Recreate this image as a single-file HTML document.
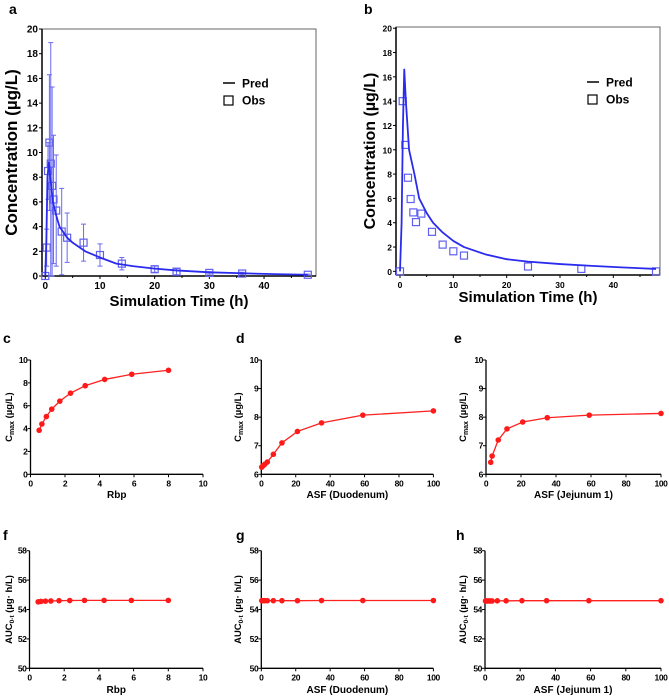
<!DOCTYPE html>
<html><head><meta charset="utf-8">
<style>
html,body{margin:0;padding:0;background:#fff;}
svg{display:block;font-family:"Liberation Sans",Arial,sans-serif;}
text{font-weight:bold;}
</style></head>
<body>
<svg id="fig" width="669" height="696" viewBox="0 0 669 696" xmlns="http://www.w3.org/2000/svg"></svg>
<script>
// Panel a data
const aPredT = [0,0.2,0.4,0.65,0.9,1.4,2,2.6,4,5,7.3,10,13,16,20,24,30,36,42,48];
const aPredC = [0,3,8,9.2,8,6,4.9,4,3.1,2.7,2,1.5,1.0,0.8,0.6,0.45,0.3,0.22,0.15,0.1];
const aObsT = [0,0.25,0.5,0.75,1,1.25,1.5,2,3,4,7,10,14,20,24,30,36,48];
const aObsC = [0,2.3,8.5,10.8,9.1,7.3,6.2,5.3,3.6,3.1,2.7,1.7,1.0,0.55,0.35,0.25,0.2,0.1];
const aObsSD = [0,1.5,2.3,5.5,9.8,8,5.2,4.5,3.5,2.0,1.5,0.9,0.5,0.25,0.25,0.1,0.1,0.05];
// Panel b data
const bPredT = [0,0.3,0.55,0.8,1.1,1.7,2.7,3.6,5,6.2,8,10,12,16,20,24,30,36,42,48];
const bPredC = [0,4,12,16.6,14,10,8,6,4.8,4,3.2,2.5,2,1.4,1.0,0.8,0.6,0.45,0.32,0.2];
const bObsT = [0,0.5,1,1.5,2,2.5,3,4,6,8,10,12,24,34,48];
const bObsC = [0,14,10.4,7.7,5.95,4.85,4.05,4.75,3.25,2.2,1.65,1.3,0.4,0.2,0.0];
// Sensitivity panels
const rbpX = [0.5,0.66,0.92,1.23,1.7,2.32,3.17,4.3,5.87,8.0];
const cCmax = [3.85,4.4,5.05,5.7,6.4,7.1,7.75,8.3,8.75,9.1];
const duoX = [0.26,1,2,3.5,7,12,21,35,59,100];
const dCmax = [6.25,6.3,6.35,6.43,6.7,7.1,7.5,7.8,8.07,8.22];
const jejX = [2.7,3.5,7,12,21,35,59,100];
const eCmax = [6.42,6.64,7.2,7.59,7.83,7.98,8.07,8.13];
const fAuc = [54.52,54.55,54.57,54.58,54.6,54.61,54.62,54.62,54.62,54.62];
const gAuc = [54.6,54.6,54.6,54.6,54.6,54.6,54.6,54.61,54.61,54.61];
const hX = [0.3,1,2,3,4,7,12,21,35,59,100];
const hAuc = [54.58,54.58,54.58,54.58,54.58,54.59,54.59,54.6,54.6,54.6,54.6];
const ticks20 = [0,2,4,6,8,10,12,14,16,18,20];
const ticksT = [0,10,20,30,40];

const NS="http://www.w3.org/2000/svg";
const svg=document.getElementById('fig');
function mk(tag,attrs,parent){const e=document.createElementNS(NS,tag);for(const k in attrs)e.setAttribute(k,attrs[k]);(parent||svg).appendChild(e);return e;}
function lin(d0,d1,r0,r1){return v=>r0+(v-d0)*(r1-r0)/(d1-d0);}

function pkPanel(o){
  const g=mk('g',{});
  
  
  const X=lin(o.xd[0],o.xd[1],o.L,o.R), Y=lin(o.yd[0],o.yd[1],o.B,o.T);
  const lab=mk('text',{x:o.labX,y:o.labY,'font-size':14,'font-weight':'normal',fill:'#000'},g);lab.textContent=o.letter;
  
  
  const box=mk('rect',{x:o.L,y:o.T,width:o.R-o.L,height:o.B-o.T,fill:'none',stroke:'#666','stroke-width':1},g);
  
  
  mk('line',{x1:o.L,y1:o.T,x2:o.L,y2:o.B,stroke:'#000','stroke-width':1.5},g);
  mk('line',{x1:o.L,y1:o.B,x2:o.R,y2:o.B,stroke:'#000','stroke-width':1.5},g);
  ticks20.forEach(t=>{const y=Y(t);mk('line',{x1:o.L-3,y1:y,x2:o.L,y2:y,stroke:'#000'},g);
    const tx=mk('text',{x:o.L-4,y:y+3.5,'font-size':o.tkSize,'text-anchor':'end'},g);tx.textContent=t;
    
    });
  ticksT.forEach(t=>{const x=X(t);mk('line',{x1:x,y1:o.B,x2:x,y2:o.B+3,stroke:'#000'},g);
    const tx=mk('text',{x:x,y:o.B+13,'font-size':o.tkSize,'text-anchor':'middle'},g);tx.textContent=t;
    
    });
  for(let t=5;t<=45;t+=5){if(t%10){const x=X(t);mk('line',{x1:x,y1:o.B,x2:x,y2:o.B+2,stroke:'#000'},g);}}
  const yt=mk('text',{transform:`translate(${o.ytX},${(o.T+o.B)/2}) rotate(-90)`,'font-size':o.ytSize,'text-anchor':'middle'},g);yt.textContent='Concentration (µg/L)';
  
  
  const xt=mk('text',{x:(o.L+o.R)/2,y:o.xtY,'font-size':15,'text-anchor':'middle'},g);xt.textContent='Simulation Time (h)';
  
  
  o.obsT.forEach((t,i)=>{
    const x=X(t),y=Y(o.obsC[i]);
    if(o.sd&&o.sd[i]>0){const y1=Y(o.obsC[i]+o.sd[i]),y2=Y(Math.max(0,o.obsC[i]-o.sd[i]));
      const eb=mk('path',{d:`M${x},${y1}V${y2}M${x-2.5},${y1}H${x+2.5}M${x-2.5},${y2}H${x+2.5}`,stroke:'#6a6af2','stroke-width':1,fill:'none'},g);
      
      }
    const s=mk('rect',{x:x-3.5,y:y-3.5,width:7,height:7,fill:'none',stroke:'#6060f0','stroke-width':1.2},g);
    
    
  });
  const p=mk('polyline',{points:o.predT.map((t,i)=>X(t)+','+Y(o.predC[i])).join(' '),fill:'none',stroke:'#2b2bee','stroke-width':1.8,'stroke-linejoin':'round'},g);
  
  
  const lg=mk('g',{},g);
  
  
  mk('line',{x1:o.lgX,y1:o.lgY,x2:o.lgX+12,y2:o.lgY,stroke:'#000','stroke-width':1.5},lg);
  const t1=mk('text',{x:o.lgX+19,y:o.lgY+4.5,'font-size':12,'font-weight':'normal'},lg);t1.textContent='Pred';
  
  
  mk('rect',{x:o.lgX+1,y:o.lgY+13,width:9,height:9,fill:'none',stroke:'#000','stroke-width':1.2},lg);
  const t2=mk('text',{x:o.lgX+19,y:o.lgY+21.5,'font-size':12,'font-weight':'normal'},lg);t2.textContent='Obs';
  
  
}

pkPanel({name:'panel-a',letter:'a',labX:9,labY:14,L:42,R:316,T:29,B:276,xd:[-0.6,49.5],yd:[0,20],tkSize:10,
  ytX:17,ytSize:17,xtY:306,obsT:aObsT,obsC:aObsC,sd:aObsSD,predT:aPredT,predC:aPredC,lgX:223,lgY:83});
pkPanel({name:'panel-b',letter:'b',labX:364,labY:14,L:396,R:660,T:27,B:275,xd:[-0.75,48.75],yd:[-0.3,20.1],tkSize:8.5,
  ytX:375,ytSize:16,xtY:302,obsT:bObsT,obsC:bObsC,sd:null,predT:bPredT,predC:bPredC,lgX:587,lgY:82});

function sensPanel(o){
  const g=mk('g',{});
  
  
  const X=lin(o.xd[0],o.xd[1],o.L,o.R), Y=lin(o.yd[0],o.yd[1],o.B,o.T);
  const lab=mk('text',{x:o.labX,y:o.labY,'font-size':14,'font-weight':'normal'},g);lab.textContent=o.letter;
  
  
  mk('line',{x1:o.L,y1:o.T,x2:o.L,y2:o.B,stroke:'#000','stroke-width':1.3},g);
  mk('line',{x1:o.L,y1:o.B,x2:o.R,y2:o.B,stroke:'#000','stroke-width':1.3},g);
  o.yt.forEach(t=>{const y=Y(t);mk('line',{x1:o.L-3,y1:y,x2:o.L,y2:y,stroke:'#000'},g);
    const tx=mk('text',{x:o.L-3,y:y+3,'font-size':8.5,'text-anchor':'end','letter-spacing':'-0.4'},g);tx.textContent=t;
    
    });
  o.xt.forEach(t=>{const x=X(t);mk('line',{x1:x,y1:o.B,x2:x,y2:o.B+3,stroke:'#000'},g);
    const tx=mk('text',{x:x,y:o.B+12,'font-size':8.5,'text-anchor':'middle','letter-spacing':'-0.4'},g);tx.textContent=t;
    
    });
  const yt=mk('text',{transform:`translate(${o.ytX},${(o.T+o.B)/2}) rotate(-90)`,'font-size':9.5,'text-anchor':'middle'},g);
  yt.innerHTML=o.ytitle;
  
  
  const xtt=mk('text',{x:(o.L+o.R)/2,y:o.xtY,'font-size':10,'text-anchor':'middle'},g);xtt.textContent=o.xtitle;
  
  
  const p=mk('polyline',{points:o.x.map((v,i)=>X(v)+','+Y(o.y[i])).join(' '),fill:'none',stroke:'#ff2020','stroke-width':1.3},g);
  
  
  o.x.forEach((v,i)=>{const c=mk('circle',{cx:X(v),cy:Y(o.y[i]),r:2.8,fill:'#ff1a1a'},g);
    
    });
}
const cmaxT='C<tspan font-size="7" dy="2">max</tspan><tspan dy="-2"> (µg/L)</tspan>';
const aucT='AUC<tspan font-size="6.5" dy="2">0-t</tspan><tspan dy="-2"> (µg· h/L)</tspan>';
const yC=[0,2,4,6,8,10], yD=[6,7,8,9,10], yA=[50,52,54,56,58], x10=[0,2,4,6,8,10], x100=[0,20,40,60,80,100];
sensPanel({name:'panel-c',letter:'c',labX:3,labY:343,L:30.5,R:203,ytX:12,T:360,B:474.3,xd:[0,10],yd:[0,10],yt:yC,xt:x10,ytitle:cmaxT,xtitle:'Rbp',xtY:498,x:rbpX,y:cCmax});
sensPanel({name:'panel-d',letter:'d',labX:236,labY:343,L:261.3,R:433.4,ytX:241,T:360,B:474.3,xd:[0,100],yd:[6,10],yt:yD,xt:x100,ytitle:cmaxT,xtitle:'ASF (Duodenum)',xtY:498,x:duoX,y:dCmax});
sensPanel({name:'panel-e',letter:'e',labX:454,labY:343,L:486,R:661,ytX:466,T:360,B:474.3,xd:[0,100],yd:[6,10],yt:yD,xt:x100,ytitle:cmaxT,xtitle:'ASF (Jejunum 1)',xtY:498,x:jejX,y:eCmax});
sensPanel({name:'panel-f',letter:'f',labX:3,labY:540,L:29.5,R:203,ytX:12,T:550.7,B:668.3,xd:[0,10],yd:[50,58],yt:yA,xt:x10,ytitle:aucT,xtitle:'Rbp',xtY:693,x:rbpX,y:fAuc});
sensPanel({name:'panel-g',letter:'g',labX:236,labY:540,L:261.3,R:433.4,ytX:241,T:550.7,B:668.3,xd:[0,100],yd:[50,58],yt:yA,xt:x100,ytitle:aucT,xtitle:'ASF (Duodenum)',xtY:693,x:duoX,y:gAuc});
sensPanel({name:'panel-h',letter:'h',labX:456,labY:540,L:485,R:661,ytX:466,T:550.7,B:668.3,xd:[0,100],yd:[50,58],yt:yA,xt:x100,ytitle:aucT,xtitle:'ASF (Jejunum 1)',xtY:693,x:hX,y:hAuc});
</script>
</body></html>
